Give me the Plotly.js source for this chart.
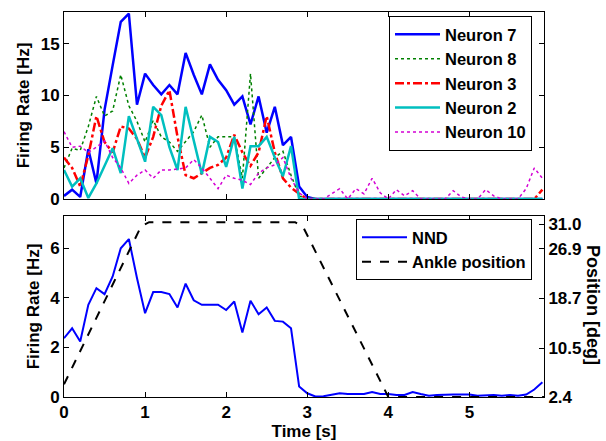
<!DOCTYPE html>
<html>
<head>
<meta charset="utf-8">
<script src="https://cdn.plot.ly/plotly-3.0.1.min.js"></script>
<style>html,body{margin:0;padding:0;background:#fff}#chart{width:606px;height:441px}</style>
</head>
<body>
<div id="chart"></div>
<script>
const time = [0,0.1,0.2,0.3,0.4,0.5,0.6,0.7,0.8,0.9,1.0,1.1,1.2,1.3,1.4,1.5,1.6,1.7,1.8,1.9,2.0,2.1,2.2,2.3,2.4,2.5,2.6,2.7,2.8,2.9,3.0,3.1,3.2,3.3,3.4,3.5,3.6,3.7,3.8,3.9,4.0,4.1,4.2,4.3,4.4,4.5,4.6,4.7,4.8,4.9,5.0,5.1,5.2,5.3,5.4,5.5,5.6,5.7,5.8,5.9];

const neuron7 = [0.3,0.9,0.2,4.8,1.5,8.6,12.9,17.1,17.9,9.1,12.1,11.0,10.1,11.0,10.1,14.1,12.0,10.1,13.0,11.5,10.5,9.1,9.9,7.2,9.9,6.4,8.9,5.2,6.0,1.2,0.2,0,0,0,0,0,0,0,0,0,0,0,0,0,0,0,0,0,0,0,0,0,0,0,0,0,0,0,0,0];
const neuron8 = [3.0,4.9,4.7,7.0,9.9,8.0,8.5,12.0,9.0,7.5,5.5,7.6,6.0,5.5,4.6,5.5,6.5,8.1,5.0,6.0,6.0,6.0,2.0,12.1,2.0,3.0,4.0,4.6,2.3,0.3,0,0,0,0,0,0,0,0,0,0,0,0,0,0,0,0,0,0,0,0,0,0,0,0,0,0,0,0,0,0];
const neuron3 = [4.0,3.0,1.2,4.2,8.0,5.5,4.5,7.0,6.8,5.8,4.0,6.0,9.0,10.5,6.0,2.3,2.0,2.5,3.0,3.3,4.0,6.2,4.5,3.2,4.5,8.0,4.5,2.0,1.1,0.5,0,0,0,0,0,0,0,0,0,0,0,0,0,0,0,0,0,0,0,0,0,0,0,0,0,0,0,0,0,0.9];
const neuron2 = [2.8,1.2,2.0,0.1,1.5,3.2,4.9,2.5,8.0,5.8,3.6,8.9,8.1,5.0,2.8,8.9,5.5,2.4,6.0,5.5,3.1,6.0,1.0,5.1,5.1,6.0,4.0,2.2,5.1,0,0,0,0,0,0,0,0,0,0,0,0,0,0,0,0,0,0,0,0,0,0,0,0,0,0,0,0,0,0,0];
const neuron10 = [6.5,5.0,5.1,4.5,5.0,5.6,4.0,3.0,1.5,2.3,2.8,2.0,2.8,2.8,2.9,3.0,3.8,3.0,2.0,1.0,2.3,2.0,1.8,1.4,2.5,3.0,3.3,4.0,2.0,0.6,0,0,0,0.5,1.0,0,1.0,0.5,2.0,0.6,0,0.9,0.3,0.8,0,0,0,0,0.8,0.2,0,0,0.9,0.3,0,0,0,1.0,3.0,2.0];

const nnd = [2.37,2.77,2.24,3.72,4.39,4.15,4.86,6.0,6.37,4.8,3.38,4.23,4.23,4.15,3.61,4.57,3.9,3.72,3.72,3.72,3.51,3.85,2.6,3.88,3.34,3.61,3.07,3.04,2.77,0.42,0.15,0.02,0.03,0.1,0.15,0.12,0.12,0.12,0.2,0.12,0.12,0.08,0.08,0.2,0.12,0.05,0.08,0.1,0.1,0.1,0.1,0.05,0.08,0.08,0.05,0.08,0.05,0.1,0.3,0.59];

const ankleTime = [0,0.95,1.05,2.85,2.95,4.0,5.92];
const anklePos = [4.5,30.6,31.3,31.3,30.5,2.4,2.4];

const posTicks = [2.4,10.5,18.7,26.9,31.0];
const posTickText = ['2.4','10.5','18.7','26.9','31.0'];

const FONT = 'Liberation Sans, Arial, sans-serif';
const tickFont = {family: FONT, size: 17, color: '#000', weight: 'bold'};

const traces = [
  {x: time, y: neuron7, name: 'Neuron 7', mode: 'lines', line: {color: '#0000FF', width: 2.5}, xaxis: 'x', yaxis: 'y', legend: 'legend'},
  {x: time, y: neuron8, name: 'Neuron 8', mode: 'lines', line: {color: '#008000', width: 1.5, dash: 'dot'}, xaxis: 'x', yaxis: 'y', legend: 'legend'},
  {x: time, y: neuron3, name: 'Neuron 3', mode: 'lines', line: {color: '#FF0000', width: 2.5, dash: 'dashdot'}, xaxis: 'x', yaxis: 'y', legend: 'legend'},
  {x: time, y: neuron2, name: 'Neuron 2', mode: 'lines', line: {color: '#00BFBF', width: 2.5}, xaxis: 'x', yaxis: 'y', legend: 'legend'},
  {x: time, y: neuron10, name: 'Neuron 10', mode: 'lines', line: {color: '#D400D4', width: 1.5, dash: 'dot'}, xaxis: 'x', yaxis: 'y', legend: 'legend'},
  {x: time, y: nnd, name: 'NND', mode: 'lines', line: {color: '#0000FF', width: 2}, xaxis: 'x2', yaxis: 'y2', legend: 'legend2'},
  {x: ankleTime, y: anklePos, name: 'Ankle position', mode: 'lines', line: {color: '#000', width: 2, dash: 'dash'}, xaxis: 'x2', yaxis: 'y3', legend: 'legend2'}
];

const xdom = [64/606, 544/606];
const axBase = {showgrid: false, zeroline: false, showline: true, linecolor: '#000', linewidth: 1, ticks: 'inside', ticklen: 5, tickcolor: '#000', tickfont: tickFont};
const titleFont = {family: FONT, size: 17, color: '#000', weight: 'bold'};
const legendFont = {family: FONT, size: 16.5, color: '#000', weight: 'bold'};

const layout = {
  width: 606, height: 441,
  margin: {l: 0, r: 0, t: 0, b: 0},
  paper_bgcolor: '#fff', plot_bgcolor: '#fff',
  font: {family: FONT, color: '#000'},
  showlegend: true,
  xaxis: Object.assign({}, axBase, {domain: xdom, anchor: 'y', range: [0, 5.92], tickvals: [1,2,3,4,5], showticklabels: false, mirror: 'ticks'}),
  yaxis: Object.assign({}, axBase, {domain: [1-199/441, 1-12/441], anchor: 'x', range: [0, 18.05], tickvals: [0,5,10,15], mirror: 'ticks',
    title: {text: 'Firing Rate [Hz]', font: titleFont, standoff: 6}}),
  xaxis2: Object.assign({}, axBase, {domain: xdom, anchor: 'y2', range: [0, 5.92], tickvals: [0,1,2,3,4,5], mirror: 'ticks',
    title: {text: 'Time [s]', font: titleFont, standoff: 5}}),
  yaxis2: Object.assign({}, axBase, {domain: [1-397/441, 1-216/441], anchor: 'x2', range: [0, 7.3], tickvals: [0,2,4,6],
    title: {text: 'Firing Rate [Hz]', font: titleFont, standoff: 6}}),
  yaxis3: Object.assign({}, axBase, {overlaying: 'y2', side: 'right', anchor: 'x2', range: [2.4, 2.4 + 7.3*4.1], tickvals: posTicks, ticktext: posTickText}),
  legend: {x: 532/606, xanchor: 'right', y: 1-16/441, yanchor: 'top', bgcolor: '#fff', bordercolor: '#000', borderwidth: 1,
    font: legendFont, tracegroupgap: 0, itemwidth: 45},
  legend2: {x: 532/606, xanchor: 'right', y: 1-219/441, yanchor: 'top', bgcolor: '#fff', bordercolor: '#000', borderwidth: 1,
    font: legendFont, itemwidth: 45},
  annotations: [
    {text: 'Position [deg]', textangle: 90, xref: 'paper', yref: 'paper', x: 593/606, y: 1-305/441, xanchor: 'center', yanchor: 'middle', showarrow: false,
     font: {family: FONT, size: 18, color: '#000', weight: 'bold'}}
  ]
};

Plotly.newPlot('chart', traces, layout, {displayModeBar: false, staticPlot: true});
</script>
</body>
</html>
